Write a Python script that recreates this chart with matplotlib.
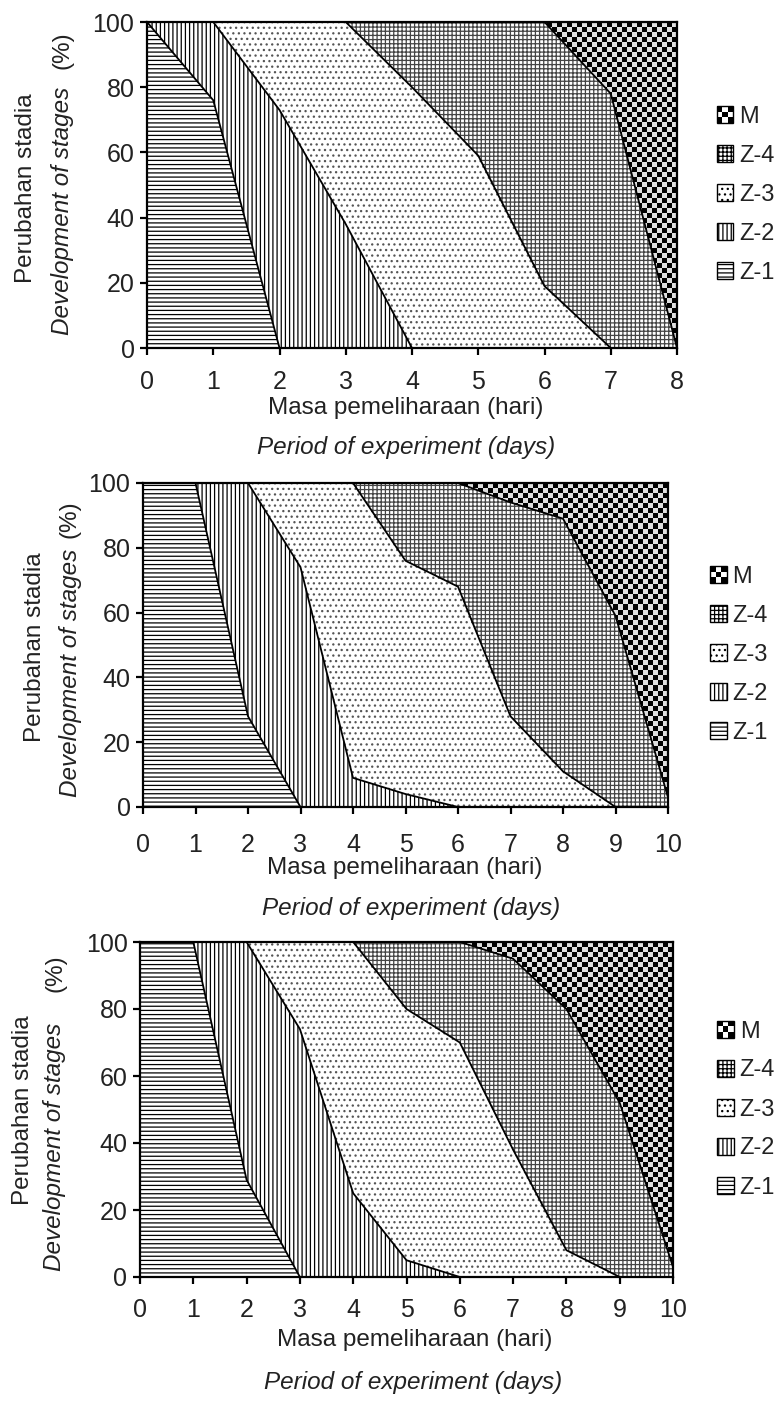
import matplotlib
matplotlib.use("Agg")
import matplotlib.pyplot as plt
from matplotlib.patches import Patch, Rectangle
from matplotlib.legend_handler import HandlerBase
import numpy as np

plt.rcParams['font.family'] = ['Liberation Sans', 'DejaVu Sans']
plt.rcParams['hatch.linewidth'] = 0.9

stage_names = ['Z-1', 'Z-2', 'Z-3', 'Z-4', 'M']

# panel 1 (days 0-8), percentage of larvae in each stage
days_a = [0, 1, 2, 3, 4, 5, 6, 7, 8]
a_z1 = [100, 76, 0, 0, 0, 0, 0, 0, 0]
a_z2 = [0, 24, 73, 38, 0, 0, 0, 0, 0]
a_z3 = [0, 0, 27, 62, 80, 59, 19, 0, 0]
a_z4 = [0, 0, 0, 0, 20, 41, 81, 78, 0]
a_m = [0, 0, 0, 0, 0, 0, 0, 22, 100]

# panel 2 (days 0-10)
days_b = [0, 1, 2, 3, 4, 5, 6, 7, 8, 9, 10]
b_z1 = [100, 100, 28, 0, 0, 0, 0, 0, 0, 0, 0]
b_z2 = [0, 0, 72, 74, 9, 4, 0, 0, 0, 0, 0]
b_z3 = [0, 0, 0, 26, 91, 72, 68, 28, 11, 0, 0]
b_z4 = [0, 0, 0, 0, 0, 24, 32, 66, 78, 59, 3]
b_m = [0, 0, 0, 0, 0, 0, 0, 6, 11, 41, 97]

# panel 3 (days 0-10)
days_c = [0, 1, 2, 3, 4, 5, 6, 7, 8, 9, 10]
c_z1 = [100, 100, 29, 0, 0, 0, 0, 0, 0, 0, 0]
c_z2 = [0, 0, 71, 74, 25, 5, 0, 0, 0, 0, 0]
c_z3 = [0, 0, 0, 26, 75, 75, 70, 38, 8, 0, 0]
c_z4 = [0, 0, 0, 0, 0, 20, 30, 57, 72, 52, 3]
c_m = [0, 0, 0, 0, 0, 0, 0, 5, 20, 48, 97]

yticks = [0, 20, 40, 60, 80, 100]
hatches = ['----', '||||', '...', '++++']
hatch_colors = ['black', 'black', '#555555', '#444444']

W, H = 778, 1405
TXT = '#222222'
fig = plt.figure(figsize=(W / 100, H / 100), dpi=100)


class CheckerHandler(HandlerBase):
    def create_artists(self, legend, orig, xd, yd, w, h, fs, trans):
        arts = [Rectangle((xd, yd), w, h, facecolor='white', edgecolor='black',
                          lw=1, transform=trans)]
        n = 3
        for i in range(n):
            for j in range(n):
                if (i + j) % 2 == 0:
                    arts.append(Rectangle((xd + i * w / n, yd + j * h / n), w / n, h / n,
                                          facecolor='black', lw=0, transform=trans))
        return arts


def draw_panel(rect, days, stages, xpad, leg_anchor, ylab_pos, xlab_pos):
    ax = fig.add_axes(rect)
    x = np.array(days, dtype=float)
    tops = np.cumsum(np.array(stages, dtype=float), axis=0)
    bottom = np.zeros_like(x)
    for k in range(4):
        ax.fill_between(x, bottom, tops[k], facecolor='white', edgecolor=hatch_colors[k],
                        linewidth=0, hatch=hatches[k])
        bottom = tops[k]
    # checkerboard texture for the M stage
    poly = ax.fill_between(x, bottom, tops[4], facecolor='none', linewidth=0)
    bb = ax.get_position()
    nx = int(bb.width * W / 5)
    ny = int(bb.height * H / 5)
    checker = (np.add.outer(np.arange(ny), np.arange(nx)) % 2).astype(float)
    im = ax.imshow(checker, cmap='gray', vmin=0, vmax=1.15, interpolation='nearest',
                   extent=[x[0], x[-1], 0, 100], aspect='auto', zorder=1)
    im.set_clip_path(poly.get_paths()[0], transform=ax.transData)
    for k in range(4):
        ax.plot(x, tops[k], color='black', lw=1.3, zorder=3)

    ax.set_xlim(x[0], x[-1])
    ax.set_ylim(0, 100)
    ax.set_xticks(days)
    ax.set_yticks(yticks)
    for s in ax.spines.values():
        s.set_linewidth(1.6)
        s.set_zorder(4)
    ax.tick_params(axis='both', direction='out', length=5, width=1.6, labelsize=18,
                   color='black', labelcolor=TXT)
    ax.tick_params(axis='x', pad=xpad)
    ax.tick_params(axis='y', pad=4)

    handles = [Patch(facecolor='white', edgecolor='black', hatch=h, lw=1) for h in hatches]
    handles.append(Patch(facecolor='white'))
    leg = ax.legend(handles[::-1], stage_names[::-1], loc='center left',
                    bbox_to_anchor=leg_anchor, frameon=False, fontsize=17,
                    handlelength=0.7, handleheight=0.7, handletextpad=0.25,
                    labelspacing=0.72, borderpad=0, borderaxespad=0,
                    handler_map={handles[-1]: CheckerHandler()})
    for t in leg.get_texts():
        t.set_color(TXT)

    (px1, py1), (px2, py2), (px3, py3) = ylab_pos
    fig.text(px1 / W, 1 - py1 / H, 'Perubahan stadia', rotation=90, fontsize=17.5,
             ha='center', va='center', color=TXT)
    fig.text(px2 / W, 1 - py2 / H, 'Development of stages', rotation=90, fontsize=17.5,
             style='italic', ha='center', va='center', color=TXT)
    fig.text(px3 / W, 1 - py3 / H, '(%)', rotation=90, fontsize=17.5,
             ha='center', va='center', color=TXT)
    (mx, my), (qx, qy) = xlab_pos
    fig.text(mx / W, 1 - my / H, 'Masa pemeliharaan (hari)', fontsize=17.5,
             ha='center', va='center', color=TXT)
    fig.text(qx / W, 1 - qy / H, 'Period of experiment (days)', fontsize=17.5,
             style='italic', ha='center', va='center', color=TXT)
    return ax


draw_panel([147 / W, 1 - 348 / H, 530 / W, 326 / H], days_a,
           [a_z1, a_z2, a_z3, a_z4, a_m], 11, (1.075, 0.47),
           [(26, 188), (63, 211), (63, 50)], [(406, 408), (406, 447)])
draw_panel([143 / W, 1 - 807 / H, 525 / W, 324 / H], days_b,
           [b_z1, b_z2, b_z3, b_z4, b_m], 14, (1.08, 0.47),
           [(35, 647), (70, 673), (70, 519)], [(405, 868), (411, 908)])
draw_panel([140 / W, 1 - 1277 / H, 533 / W, 335 / H], days_c,
           [c_z1, c_z2, c_z3, c_z4, c_m], 10, (1.083, 0.50),
           [(23, 1110), (55, 1147), (55, 973)], [(415, 1340), (413, 1383)])

fig.savefig('out.png', dpi=100)
